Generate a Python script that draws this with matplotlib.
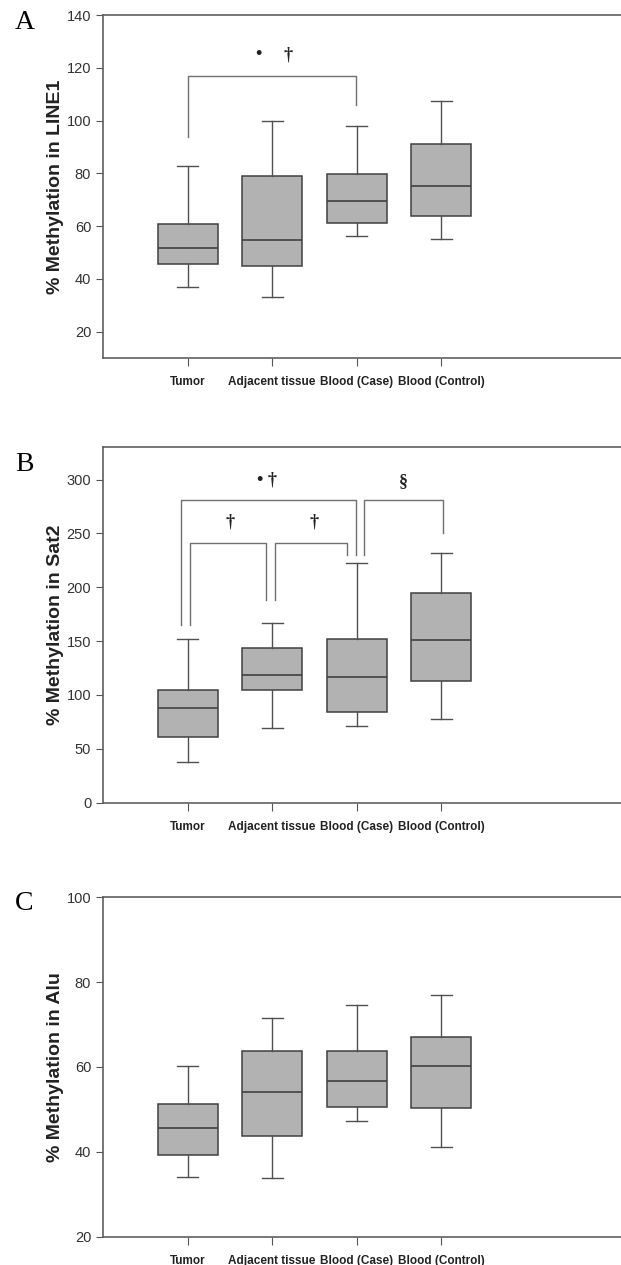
import matplotlib.pyplot as plt
import numpy as np

groups = ['Tumor', 'Adjacent tissue', 'Blood (Case)', 'Blood (Control)']

# box stats: whisker low, Q1, median, Q3, whisker high
line1_stats = [[36.9, 45.5, 51.7, 60.7, 82.9],
               [33.0, 44.9, 54.9, 79.0, 99.8],
               [56.1, 61.1, 69.4, 79.6, 97.9],
               [55.0, 64.0, 75.2, 91.1, 107.5]]
sat2_stats = [[37.8, 60.8, 87.7, 105.0, 151.9],
              [69.1, 105.0, 119.0, 144.0, 166.8],
              [71.3, 84.3, 116.5, 152.0, 222.5],
              [78.1, 113.4, 151.3, 194.6, 232.1]]
alu_stats = [[34.0, 39.2, 45.6, 51.2, 60.3],
             [33.8, 43.7, 54.0, 63.7, 71.5],
             [47.3, 50.5, 56.6, 63.7, 74.5],
             [41.2, 50.3, 60.3, 67.0, 77.0]]

ylabels = ['% Methylation in LINE1', '% Methylation in Sat2', '% Methylation in Alu']
letters = ['A', 'B', 'C']
ylims = [(10, 140), (0, 330), (20, 100)]
yticks = [np.arange(20, 141, 20), np.arange(0, 301, 50), np.arange(20, 101, 20)]

# brackets: (left x, right x, top y, left leg bottom, right leg bottom)
brackets_a = [(1.0, 2.99, 116.9, 93.9, 105.9)]
brackets_b = [(0.92, 2.99, 281, 165, 230),
              (1.03, 1.93, 241.5, 165, 188),
              (2.03, 2.89, 241.5, 188, 230),
              (3.09, 4.02, 281, 230, 250)]
# significance marks: (x, y, text)
marks_a = [(1.84, 125, '•'), (2.19, 125, '†')]
marks_b = [(1.94, 300, '• †'), (3.55, 298, '§'), (1.50, 261, '†'), (2.49, 261, '†')]

plt.rcParams['font.family'] = ['Liberation Sans', 'DejaVu Sans']

fig = plt.figure(figsize=(6.21, 12.65), dpi=100)
positions = [[0.1659, 0.7170, 0.8647, 0.2711],
             [0.1659, 0.3655, 0.8647, 0.2809],
             [0.1659, 0.0224, 0.8647, 0.2683]]

all_stats = [line1_stats, sat2_stats, alu_stats]
all_brackets = [brackets_a, brackets_b, []]
all_marks = [marks_a, marks_b, []]
letter_y = [0.982, 0.633, 0.286]

for i in range(3):
    ax = fig.add_axes(positions[i])
    stats = []
    for name, s in zip(groups, all_stats[i]):
        stats.append(dict(label=name, whislo=s[0], q1=s[1], med=s[2], q3=s[3], whishi=s[4], fliers=[]))
    ax.bxp(stats, positions=[1, 2, 3, 4], widths=0.71, capwidths=0.25, patch_artist=True,
           boxprops=dict(facecolor='#b2b2b2', edgecolor='#404040', linewidth=1.1),
           medianprops=dict(color='#404040', linewidth=1.2),
           whiskerprops=dict(color='#505050', linewidth=1.0),
           capprops=dict(color='#505050', linewidth=1.0),
           showfliers=False)
    ax.set_xlim(0, 6.35)
    ax.set_ylim(*ylims[i])
    ax.set_yticks(yticks[i])
    ax.set_xticks([1, 2, 3, 4])
    ax.set_xticklabels(groups, fontsize=8.5, fontweight='bold', color='#222222')
    ax.tick_params(axis='y', labelsize=10.5, labelcolor='#333333', direction='out', length=5, color='#555555')
    ax.tick_params(axis='x', direction='out', length=6, pad=7, color='#555555')
    for sp in ax.spines.values():
        sp.set_color('#606060')
        sp.set_linewidth(1.2)
    ax.set_ylabel(ylabels[i], fontsize=14, fontweight='bold', labelpad=2, color='#222222')

    for (x0, x1, top, b0, b1) in all_brackets[i]:
        ax.plot([x0, x0, x1, x1], [b0, top, top, b1], color='#707070', linewidth=1.0)
    for (x, y, t) in all_marks[i]:
        ax.text(x, y, t, ha='center', va='center', fontsize=13, fontweight='bold', color='#222222',
                family=['Liberation Serif', 'DejaVu Serif'])

    fig.text(0.024, letter_y[i], letters[i], fontsize=20, family='Liberation Serif',
             ha='left', va='center')

fig.savefig('out.png', dpi=100)
